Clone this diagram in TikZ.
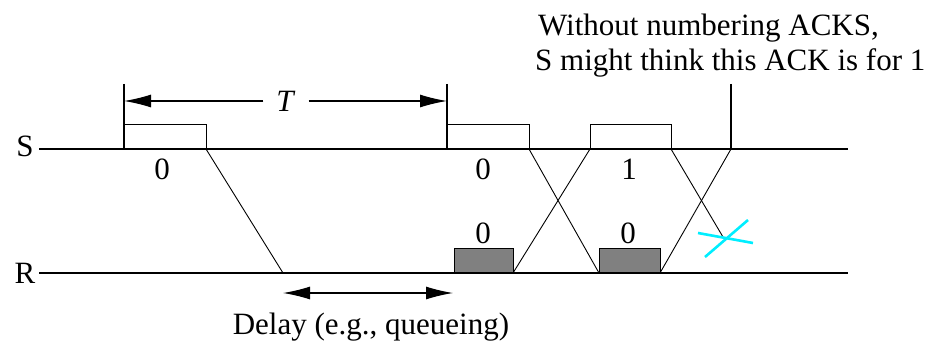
\documentclass[tikz,border=0pt]{standalone}
\usepackage{fontspec}
\setmainfont{Liberation Serif}
\usetikzlibrary{arrows.meta}
\definecolor{boxgray}{RGB}{128,128,128}
\definecolor{lostcyan}{RGB}{0,238,255}
\begin{document}
\begin{tikzpicture}[x=1pt,y=-1pt,
  lbl/.style={inner sep=0pt, anchor=base, font=\fontsize{31}{35}\selectfont},
  axisline/.style={line width=1.6pt},
  pkt/.style={draw, line width=1.4pt, inner sep=0pt, anchor=south west},
  ackbox/.style={draw, line width=1.4pt, fill=boxgray, inner sep=0pt, anchor=south west},
  msg/.style={line width=0.9pt},
  dimarrow/.style={line width=1.2pt, -{Latex[length=27pt,width=13pt]}},
  barline/.style={line width=1.8pt},
  lost/.style={draw=lostcyan, line width=2.6pt}]
\useasboundingbox (0,0) rectangle (940,342);

% time lines
\coordinate (S0) at (39,149); \coordinate (S1) at (848,149);
\coordinate (R0) at (39,273); \coordinate (R1) at (848,273);
\draw[axisline] (S0) -- (S1);
\draw[axisline] (R0) -- (R1);
\node[lbl] (Slab) at (25,157) {S};
\node[lbl] (Rlab) at (25,283) {R};

% packets on S
\node[pkt, minimum width=82pt, minimum height=24pt] (p0) at (124,149) {};
\node[pkt, minimum width=82pt, minimum height=24pt] (p1) at (447,149) {};
\node[pkt, minimum width=81pt, minimum height=24pt] (p2) at (590,149) {};
\node[lbl] (l0) at (162,179) {0};
\node[lbl] (l1) at (483,179) {0};
\node[lbl] (l2) at (629,179) {1};

% ACK boxes on R
\node[ackbox, minimum width=59pt, minimum height=24pt] (a0) at (454,273) {};
\node[ackbox, minimum width=61pt, minimum height=24pt] (a1) at (599,273) {};
\node[lbl] (la0) at (483,243) {0};
\node[lbl] (la1) at (628,243) {0};

% T interval
\coordinate (b0top) at (124,84); \coordinate (b0bot) at (124,149);
\coordinate (b1top) at (447,84); \coordinate (b1bot) at (447,149);
\draw[barline] (b0top) -- (b0bot);
\draw[barline] (b1top) -- (b1bot);
\node[inner xsep=13pt, inner ysep=2pt, font=\fontsize{31}{35}\selectfont] (T) at (286,101) {\textit{T}};
\coordinate (tL) at (124,101); \coordinate (tR) at (447,101);
\draw[dimarrow] (T.west) -- (tL);
\draw[dimarrow] (T.east) -- (tR);

% messages
\coordinate (m0a) at (206,149); \coordinate (m0b) at (283,273);
\coordinate (m1a) at (529,149); \coordinate (m1b) at (599,273);
\coordinate (k0a) at (513,273); \coordinate (k0b) at (590,149);
\coordinate (m2a) at (671,149); \coordinate (m2b) at (723,237);
\coordinate (k1a) at (660,273); \coordinate (k1b) at (731,149);
\draw[msg] (m0a) -- (m0b);
\draw[msg] (m1a) -- (m1b);
\draw[msg] (k0a) -- (k0b);
\draw[msg] (m2a) -- (m2b);
\draw[msg] (k1a) -- (k1b);
\coordinate (ticktop) at (731,84);
\draw[barline] (ticktop) -- (k1b);

% lost packet mark
\coordinate (x0a) at (698,233); \coordinate (x0b) at (753,243);
\coordinate (x1a) at (705,257); \coordinate (x1b) at (748,220);
\draw[lost] (x0a) -- (x0b);
\draw[lost] (x1a) -- (x1b);

% delay
\coordinate (d0) at (283,293); \coordinate (d1) at (453,293);
\coordinate (dm) at (368,293);
\draw[dimarrow] (dm) -- (d0);
\draw[dimarrow] (dm) -- (d1);
\node[lbl] (delay) at (371,334) {Delay (e.g., queueing)};

% annotation
\node[lbl, anchor=base west] (n1) at (538,36) {Without numbering ACKS,};
\node[lbl, anchor=base west] (n2) at (535,71) {S might think this ACK is for 1};
\end{tikzpicture}
\end{document}
